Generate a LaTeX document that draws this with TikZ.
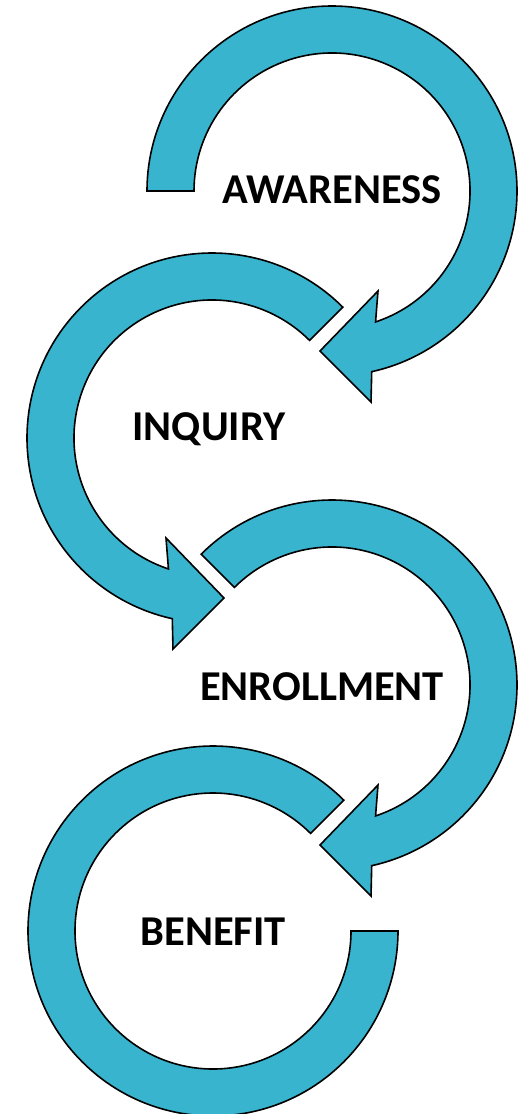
\documentclass[tikz,border=0pt]{standalone}
\usepackage{fontspec}
\setmainfont{Carlito}
\usepackage{tikz}
\definecolor{ringblue}{RGB}{57,180,206}
\tikzstyle{ring} = [fill=ringblue, draw=black, line width=1.6pt, line join=miter]
\tikzstyle{stage} = [font=\bfseries\fontsize{42.5}{46}\selectfont, anchor=base, inner sep=0pt]

\begin{document}
\begin{tikzpicture}[x=1pt,y=1pt]
\useasboundingbox (0,0) rectangle (529,-1114);
    %awareness
    \begin{scope}[shift={(332,-191)}]
    \draw[ring] (180:185) arc[start angle=180, end angle=-77.6, radius=185]
        -- (39,-211) -- (-12,-160) -- (46,-100)
        -- (-71.6:138) arc[start angle=-71.6, end angle=180, radius=138] -- cycle;
    \end{scope}
    %inquiry
    \begin{scope}[shift={(212,-438)}]
    \draw[ring] (45:185) arc[start angle=45, end angle=257.6, radius=185]
        -- (-39,-211) -- (12,-160) -- (-46,-100)
        -- (251.6:138) arc[start angle=251.6, end angle=45, radius=138] -- cycle;
    \end{scope}
    %enrollment
    \begin{scope}[shift={(332,-685)}]
    \draw[ring] (135:185) arc[start angle=135, end angle=-77.6, radius=185]
        -- (39,-211) -- (-12,-160) -- (46,-100)
        -- (-71.6:138) arc[start angle=-71.6, end angle=135, radius=138] -- cycle;
    \end{scope}
    %benefit
    \begin{scope}[shift={(213,-931)}]
    \draw[ring] (45:185) arc[start angle=45, end angle=360, radius=185]
        -- (0:138) arc[start angle=360, end angle=45, radius=138] -- cycle;
    \end{scope}
    %labels
    \node[stage] (aware) at (332,-203) {AWARENESS};
    \node[stage] (inquiry) at (209,-440) {INQUIRY};
    \node[stage] (enroll) at (322,-700) {ENROLLMENT};
    \node[stage] (benefit) at (213,-945) {BENEFIT};
\end{tikzpicture}
\end{document}
